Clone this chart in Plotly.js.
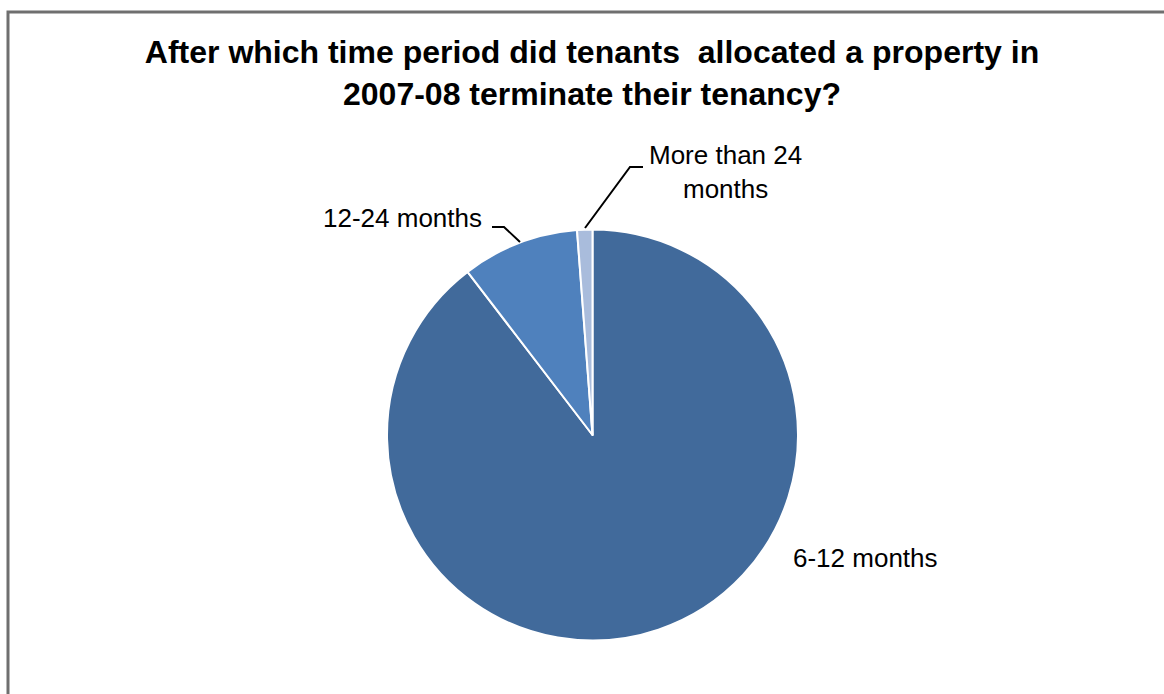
<!DOCTYPE html>
<html>
<head>
<meta charset="utf-8">
<script src="https://cdn.plot.ly/plotly-3.0.1.min.js"></script>
<style>
  html, body { margin: 0; padding: 0; background: #ffffff; }
  #chart { width: 1164px; height: 694px; }
</style>
</head>
<body>
<div id="chart"></div>
<script>
// ---- data ----
const categories = ["6-12 months", "12-24 months", "More than 24<br>months"];
const values = [89.6, 9.2, 1.2];
const sliceColors = ["#416A9B", "#4F81BD", "#A9BCDC"];
const titleText = "After which time period did tenants  allocated a property in<br>2007-08 terminate their tenancy?";

// ---- layout helpers (figure pixel -> paper coords, margins are 0) ----
const W = 1164, H = 694;
const px = x => x / W;
const py = y => 1 - y / H;
const path = pts => pts.map((p, i) => (i ? "L" : "M") + px(p[0]).toFixed(5) + "," + py(p[1]).toFixed(5)).join(" ");

const FONT = '"Liberation Sans", Arial, sans-serif';

const trace = {
  type: "pie",
  labels: categories,
  values: values,
  sort: false,
  direction: "clockwise",
  rotation: 0,
  textinfo: "none",
  hoverinfo: "label+percent",
  marker: { colors: sliceColors, line: { color: "#ffffff", width: 2 } },
  domain: { x: [px(387), px(798)], y: [py(641), py(229)] },
  showlegend: false
};

const labelFont = { family: FONT, size: 26, color: "#000000" };

const layout = {
  width: W,
  height: H,
  margin: { l: 0, r: 0, t: 0, b: 0 },
  paper_bgcolor: "#ffffff",
  plot_bgcolor: "#ffffff",
  title: {
    text: "<b>" + titleText + "</b>",
    font: { family: FONT, size: 32, color: "#000000" },
    x: px(592), xanchor: "center",
    y: py(63), yanchor: "middle",
    xref: "paper", yref: "paper"
  },
  annotations: [
    { text: categories[0], x: px(865), y: py(558), xref: "paper", yref: "paper",
      showarrow: false, font: labelFont, xanchor: "center", yanchor: "middle" },
    { text: categories[1], x: px(484), y: py(218), xref: "paper", yref: "paper",
      showarrow: false, font: labelFont, xanchor: "right", yanchor: "middle" },
    { text: categories[2], x: px(725), y: py(172), xref: "paper", yref: "paper",
      showarrow: false, font: labelFont, xanchor: "center", yanchor: "middle", align: "center" }
  ],
  shapes: [
    // chart frame (top and left edges visible)
    { type: "path", xref: "paper", yref: "paper",
      path: path([[8, H + 5], [8, 12], [W + 5, 12]]),
      line: { color: "#6f6f6f", width: 3 } },
    // leader line 12-24 months
    { type: "path", xref: "paper", yref: "paper",
      path: path([[492, 227], [504, 227], [520, 242]]),
      line: { color: "#000000", width: 2 } },
    // leader line More than 24 months
    { type: "path", xref: "paper", yref: "paper",
      path: path([[643, 167], [630, 167], [585, 228]]),
      line: { color: "#000000", width: 2 } }
  ]
};

Plotly.newPlot("chart", [trace], layout, { displayModeBar: false, staticPlot: true });
</script>
</body>
</html>
